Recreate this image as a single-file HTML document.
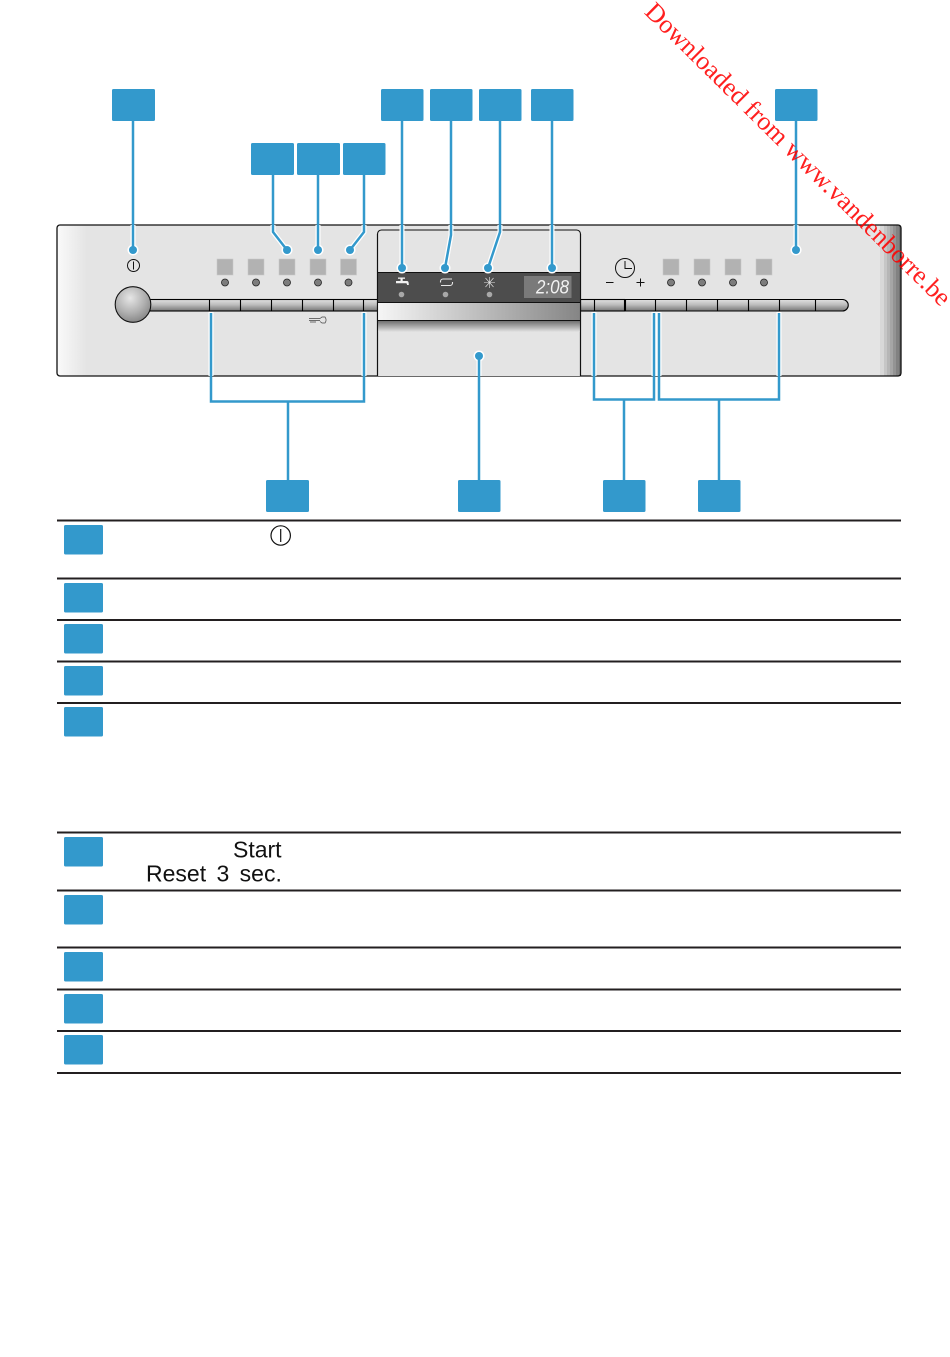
<!DOCTYPE html>
<html><head><meta charset="utf-8"><style>
html,body{margin:0;padding:0;background:#fff;width:950px;height:1357px;overflow:hidden}
svg{display:block}
</style></head><body>
<svg xmlns="http://www.w3.org/2000/svg" width="950" height="1357" viewBox="0 0 950 1357">
<defs>
<linearGradient id="pl" x1="0" x2="1" y1="0" y2="0">
<stop offset="0" stop-color="#fafafa"/><stop offset="0.035" stop-color="#e4e4e4"/><stop offset="1" stop-color="#e4e4e4"/>
</linearGradient>
<linearGradient id="bar" x1="0" x2="0" y1="0" y2="1">
<stop offset="0" stop-color="#e0e0e0"/><stop offset="0.45" stop-color="#bdbdbd"/><stop offset="1" stop-color="#757575"/>
</linearGradient>
<linearGradient id="band" x1="0" x2="1" y1="0" y2="0">
<stop offset="0" stop-color="#f6f6f6"/><stop offset="1" stop-color="#858585"/>
</linearGradient>
<linearGradient id="shade" x1="0" x2="0" y1="0" y2="1">
<stop offset="0" stop-color="#707070"/><stop offset="1" stop-color="#e4e4e4"/>
</linearGradient>
<radialGradient id="knob" cx="0.42" cy="0.32" r="0.7">
<stop offset="0" stop-color="#e6e6e6"/><stop offset="0.6" stop-color="#b0b0b0"/><stop offset="1" stop-color="#868686"/>
</radialGradient>
</defs>

<!-- panel -->
<rect x="57" y="225" width="844" height="151" rx="3" fill="url(#pl)"/>
<g>
<rect x="880" y="225.500" width="4" height="150.500" fill="#d8d8d8"/>
<rect x="884" y="225.500" width="3" height="150.500" fill="#c6c6c6"/>
<rect x="887" y="225.500" width="3" height="150.500" fill="#b6b6b6"/>
<rect x="890" y="225.500" width="3" height="150.500" fill="#a6a6a6"/>
<rect x="893" y="225.500" width="3" height="150.500" fill="#949494"/>
<rect x="896" y="225.500" width="3" height="150.500" fill="#828282"/>
<rect x="899" y="225.500" width="2" height="150.500" fill="#707070"/>
</g>
<rect x="57" y="225" width="844" height="151" rx="3" fill="none" stroke="#111" stroke-width="1.300"/>

<!-- bar -->
<rect x="150" y="299.500" width="228" height="11.500" fill="url(#bar)" stroke="#000" stroke-width="1.100"/>
<rect x="580.500" y="299.500" width="44" height="11.500" fill="url(#bar)" stroke="#000" stroke-width="1.100"/>
<path d="M625.500 299.500H842.500a5.750 5.750 0 0 1 0 11.500H625.500Z" fill="url(#bar)" stroke="#000" stroke-width="1.100"/>
<path d="M209.500 299.500V311M240.500 299.500V311M271.500 299.500V311M302.500 299.500V311M333.500 299.500V311M363.500 299.500V311M594.500 299.500V311M655.500 299.500V311M686.500 299.500V311M717.500 299.500V311M748.500 299.500V311M779.500 299.500V311M815.500 299.500V311" stroke="#000" stroke-width="1.100" fill="none"/>
<circle cx="133" cy="304.500" r="17.800" fill="url(#knob)" stroke="#111" stroke-width="1.100"/>

<!-- power icon -->
<circle cx="133.500" cy="265.500" r="6" fill="none" stroke="#111" stroke-width="1"/>
<path d="M133.500 261.500V269.500" stroke="#111" stroke-width="1"/>

<!-- squares -->
<g fill="#b2b2b2" stroke="#c8c8c8" stroke-width="0.600">
<rect x="217" y="259" width="16" height="16"/><rect x="248" y="259" width="16" height="16"/><rect x="279" y="259" width="16" height="16"/><rect x="310" y="259" width="16" height="16"/><rect x="340.500" y="259" width="16" height="16"/>
<rect x="663" y="259" width="16" height="16"/><rect x="694" y="259" width="16" height="16"/><rect x="725" y="259" width="16" height="16"/><rect x="756" y="259" width="16" height="16"/>
</g>
<g fill="#7c7c7c" stroke="#222" stroke-width="0.800">
<circle cx="225" cy="282.500" r="3.500"/><circle cx="256" cy="282.500" r="3.500"/><circle cx="287" cy="282.500" r="3.500"/><circle cx="318" cy="282.500" r="3.500"/><circle cx="348.500" cy="282.500" r="3.500"/>
<circle cx="671" cy="282.500" r="3.500"/><circle cx="702" cy="282.500" r="3.500"/><circle cx="733" cy="282.500" r="3.500"/><circle cx="764" cy="282.500" r="3.500"/>
</g>

<!-- key icon -->
<g fill="none" stroke="#444" stroke-width="0.700">
<path d="M309 318.500H320M309 320.500H320M310 322H316"/>
<path d="M320 318.500l2-1.500h3l1 2v2l-1 2h-3l-2-1.500"/>
</g>

<!-- centre module -->
<path d="M377.500 376V234a4 4 0 0 1 4-4H576.500a4 4 0 0 1 4 4V376" fill="#e4e4e4" stroke="#111" stroke-width="1.100"/>
<rect x="377.500" y="272.500" width="203" height="30" fill="#4d4d4d" stroke="#111" stroke-width="1"/>
<rect x="377.500" y="303" width="203" height="17" fill="url(#band)"/>
<path d="M377.500 320.500H580.500" stroke="#111" stroke-width="1"/>
<rect x="377.500" y="321" width="203" height="11" fill="url(#shade)"/>
<path d="M377.500 234V376M580.500 234V376" stroke="#111" stroke-width="1.100" fill="none"/>

<!-- display -->
<rect x="524" y="276" width="47.500" height="22" fill="#7a7a7a"/>
<text x="536" y="293.500" font-family="'Liberation Sans',sans-serif" font-style="italic" font-size="19" fill="#f2f2f2" textLength="33" lengthAdjust="spacingAndGlyphs">2:08</text>

<!-- dark band icons -->
<g fill="#f0f0f0">
<path d="M396 281h11c1.500 0 1.800 1.500 1.800 4h-1.800c0-1.200-0.300-1.800-1-1.800H396Z"/><rect x="400.500" y="278" width="2.200" height="4"/><rect x="398" y="277.500" width="7" height="1.300"/>
</g>
<g fill="none" stroke="#e8e8e8" stroke-width="1.100">
<path d="M452 279h-9a2.500 2.500 0 0 0-2.500 2.500v1M441 285.500h9a2.500 2.500 0 0 0 2.500-2.500v-1"/>
<path d="M484 282.500h11M489.500 277v11M485.500 278l8 9M493.500 278l-8 9" stroke-width="0.600"/>
</g>
<circle cx="401.500" cy="294.500" r="2.800" fill="#a8a8a8"/><circle cx="445.500" cy="294.500" r="2.800" fill="#a8a8a8"/><circle cx="489.500" cy="294.500" r="2.800" fill="#a8a8a8"/>

<!-- clock -->
<circle cx="625" cy="268" r="9.500" fill="none" stroke="#111" stroke-width="1"/>
<path d="M625 261V268.500H632" fill="none" stroke="#111" stroke-width="1"/>
<path d="M606 282.500H613.500M636.500 282.500H644.500M640.500 278.500V286.500" stroke="#111" stroke-width="1" fill="none"/>

<!-- connector halos -->
<g fill="none" stroke="#fff" stroke-width="5">
<path d="M133 225V250M273 225V232L287 250M318 225V250M364 225V232L350 250M402 225V268M451 225V235L445 268M500 225V232L488 268M552 225V268M796 225V250"/>
<path d="M211 312V376M364 312V376M479 356V376M594 312V376M654 312V376M659 312V376M779 312V376"/>
</g>
<g fill="#fff">
<circle cx="133" cy="250" r="5.500"/><circle cx="287" cy="250" r="5.500"/><circle cx="318" cy="250" r="5.500"/><circle cx="350" cy="250" r="5.500"/><circle cx="402" cy="268" r="5.500"/><circle cx="445" cy="268" r="5.500"/><circle cx="488" cy="268" r="5.500"/><circle cx="552" cy="268" r="5.500"/><circle cx="479" cy="356" r="5.500"/><circle cx="796" cy="250" r="5.500"/>
</g>

<!-- connectors -->
<g fill="none" stroke="#3399cc" stroke-width="2.500">
<path d="M133 121V250M273 175V232L287 250M318 175V250M364 175V232L350 250M402 121V268M451 121V235L445 268M500 121V232L488 268M552 121V268M796 121V250"/>
<path d="M211 313V401.500H364V313M288 401.500V480M479 356V480"/>
<path d="M594 313V399.500H654V313M624 399.500V480M659 313V399.500H779V313M719 399.500V480"/>
</g>
<g fill="#3399cc">
<circle cx="133" cy="250" r="4"/><circle cx="287" cy="250" r="4"/><circle cx="318" cy="250" r="4"/><circle cx="350" cy="250" r="4"/><circle cx="402" cy="268" r="4"/><circle cx="445" cy="268" r="4"/><circle cx="488" cy="268" r="4"/><circle cx="552" cy="268" r="4"/><circle cx="479" cy="356" r="4"/><circle cx="796" cy="250" r="4"/>
</g>

<!-- label boxes -->
<g fill="#3399cc">
<rect x="112" y="89" width="43" height="32" rx="1.500"/>
<rect x="381" y="89" width="42.500" height="32" rx="1.500"/>
<rect x="430" y="89" width="42.500" height="32" rx="1.500"/>
<rect x="479" y="89" width="42.500" height="32" rx="1.500"/>
<rect x="531" y="89" width="42.500" height="32" rx="1.500"/>
<rect x="775" y="89" width="42.500" height="32" rx="1.500"/>
<rect x="251" y="143" width="43" height="32" rx="1.500"/>
<rect x="297" y="143" width="43" height="32" rx="1.500"/>
<rect x="343" y="143" width="42.500" height="32" rx="1.500"/>
<rect x="266" y="480" width="43" height="32" rx="1.500"/>
<rect x="458" y="480" width="42.500" height="32" rx="1.500"/>
<rect x="603" y="480" width="42.500" height="32" rx="1.500"/>
<rect x="698" y="480" width="42.500" height="32" rx="1.500"/>
<rect x="64" y="525" width="39" height="29.500" rx="1.500"/>
<rect x="64" y="583" width="39" height="29.500" rx="1.500"/>
<rect x="64" y="624" width="39" height="29.500" rx="1.500"/>
<rect x="64" y="666" width="39" height="29.500" rx="1.500"/>
<rect x="64" y="707" width="39" height="29.500" rx="1.500"/>
<rect x="64" y="837" width="39" height="29.500" rx="1.500"/>
<rect x="64" y="895" width="39" height="29.500" rx="1.500"/>
<rect x="64" y="952" width="39" height="29.500" rx="1.500"/>
<rect x="64" y="994" width="39" height="29.500" rx="1.500"/>
<rect x="64" y="1035" width="39" height="29.500" rx="1.500"/>
</g>

<!-- table rules -->
<g stroke="#231f20" stroke-width="2" fill="none">
<path d="M57 520.500H901M57 578.500H901M57 620H901M57 661.500H901M57 703H901M57 832.500H901M57 890.500H901M57 947.500H901M57 989.500H901M57 1031H901M57 1073H901"/>
</g>

<!-- legend -->
<circle cx="280.700" cy="535.500" r="9.700" fill="none" stroke="#111" stroke-width="1.200"/>
<path d="M280.700 529V542" stroke="#111" stroke-width="1.200"/>
<text x="233" y="857.500" font-family="'Liberation Sans',sans-serif" font-size="23" fill="#111">Start</text>
<text x="146" y="881.500" font-family="'Liberation Sans',sans-serif" font-size="23" word-spacing="4" fill="#111">Reset 3 sec.</text>

<!-- watermark -->
<text transform="translate(643.500,13) rotate(44.700)" font-family="'Liberation Serif',serif" font-size="26" fill="#ff0000" fill-opacity="0.88">Downloaded from www.vandenborre.be</text>
</svg>
</body></html>
